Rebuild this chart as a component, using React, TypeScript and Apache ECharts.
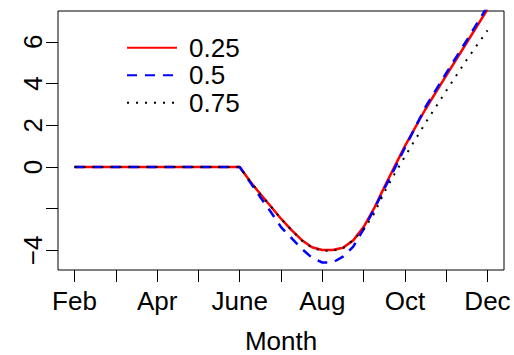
import React, { useEffect, useRef } from "react";
import * as echarts from "echarts";

// Month positions (2 = Feb … 12 = Dec) at which the curves are sampled
const monthPos = [2, 3, 4, 5, 6, 6.25, 6.5, 6.75, 7, 7.25, 7.5, 7.75, 8, 8.25, 8.5, 8.75, 9, 9.25, 9.5, 9.75, 10, 10.5, 11, 11.5, 12];

// Fitted curves for the three quantiles
const q25 = [0, 0, 0, 0, 0, -0.68, -1.3, -1.88, -2.48, -3.02, -3.5, -3.85, -3.98, -3.98, -3.87, -3.52, -2.88, -2.0, -0.98, 0.02, 1.0, 2.78, 4.38, 5.97, 7.56];
const q50 = [0, 0, 0, 0, 0, -0.72, -1.45, -2.15, -2.88, -3.4, -3.92, -4.35, -4.58, -4.58, -4.3, -3.82, -2.98, -2.05, -1.05, -0.08, 0.92, 2.88, 4.5, 6.08, 7.7];
const q75 = [0, 0, 0, 0, 0, -0.68, -1.3, -1.88, -2.48, -3.02, -3.52, -3.87, -4.02, -4.02, -3.9, -3.5, -3.0, -2.25, -1.22, -0.33, 0.5, 2.12, 3.65, 5.15, 6.55];

// Axis ticks and labels
const xTickMonths = [2, 3, 4, 5, 6, 7, 8, 9, 10, 11, 12];
const xLabelMonths = [2, 4, 6, 8, 10, 12];
const xLabelNames = ["Feb", "Apr", "June", "Aug", "Oct", "Dec"];
const yTicks = [-4, -2, 0, 2, 4, 6];
const yLabels = [-4, 0, 2, 4, 6];

const FONT = "Liberation Sans, Arial, Helvetica, sans-serif";

const pairs = (ys: number[]) => monthPos.map((x, i) => [x, ys[i]]);

export default function App() {
  const ref = useRef<HTMLDivElement>(null);

  useEffect(() => {
    if (!ref.current) return;
    const chart = echarts.init(ref.current, undefined, { renderer: "svg" });
    chart.setOption({
      animation: false,
      backgroundColor: "#fff",
      textStyle: { fontFamily: FONT },
      grid: {
        left: 58,
        top: 11,
        width: 446,
        height: 259,
        show: true,
        borderColor: "#000",
        borderWidth: 1,
        backgroundColor: "transparent",
        containLabel: false,
        outerBoundsMode: "none",
      },
      legend: {
        orient: "vertical",
        left: 126,
        top: 34,
        padding: 0,
        itemGap: 0,
        itemWidth: 50,
        itemHeight: 14,
        itemStyle: { opacity: 0 },
        textStyle: {
          fontFamily: FONT,
          fontSize: 26,
          color: "#000",
          lineHeight: 27.5,
          padding: [0, 0, 0, 7],
        },
        data: ["0.25", "0.5", "0.75"],
      },
      xAxis: {
        type: "value",
        min: 1.6,
        max: 12.4,
        name: "Month",
        nameLocation: "middle",
        nameGap: 63,
        nameTextStyle: { fontFamily: FONT, fontSize: 26, color: "#000", lineHeight: 16 },
        axisLine: { show: false, onZero: false },
        splitLine: { show: false },
        axisTick: {
          show: true,
          inside: false,
          length: 12,
          lineStyle: { color: "#000", width: 1 },
          customValues: xTickMonths,
        },
        axisLabel: {
          fontFamily: FONT,
          fontSize: 26,
          color: "#000",
          margin: 18,
          customValues: xLabelMonths,
          formatter: (v: number) => {
            const i = xLabelMonths.indexOf(v);
            return i >= 0 ? xLabelNames[i] : "";
          },
        },
      },
      yAxis: {
        type: "value",
        min: -4.94,
        max: 7.48,
        axisLine: { show: false, onZero: false },
        splitLine: { show: false },
        axisTick: {
          show: true,
          inside: false,
          length: 12,
          lineStyle: { color: "#000", width: 1 },
          customValues: yTicks,
        },
        axisLabel: {
          fontFamily: FONT,
          fontSize: 26,
          color: "#000",
          rotate: 90,
          margin: 12,
          customValues: yLabels,
          formatter: (v: number) => String(v).replace("-", "\u2212"),
        },
      },
      series: [
        {
          name: "0.25",
          type: "line",
          data: pairs(q25),
          showSymbol: false,
          symbol: "none",
          clip: true,
          lineStyle: { color: "#ff0000", width: 2.5, type: "solid" },
          itemStyle: { color: "#ff0000" },
        },
        {
          name: "0.5",
          type: "line",
          data: pairs(q50),
          showSymbol: false,
          symbol: "none",
          clip: true,
          lineStyle: { color: "#0000ff", width: 2.5, type: [10, 8] },
          itemStyle: { color: "#0000ff" },
        },
        {
          name: "0.75",
          type: "line",
          data: pairs(q75),
          showSymbol: false,
          symbol: "none",
          clip: true,
          lineStyle: { color: "#000", width: 2, type: [2, 7] },
          itemStyle: { color: "#000" },
        },
      ],
    });
    return () => chart.dispose();
  }, []);

  return <div ref={ref} style={{ width: 514, height: 355, position: "absolute", left: 0, top: 0 }} />;
}
